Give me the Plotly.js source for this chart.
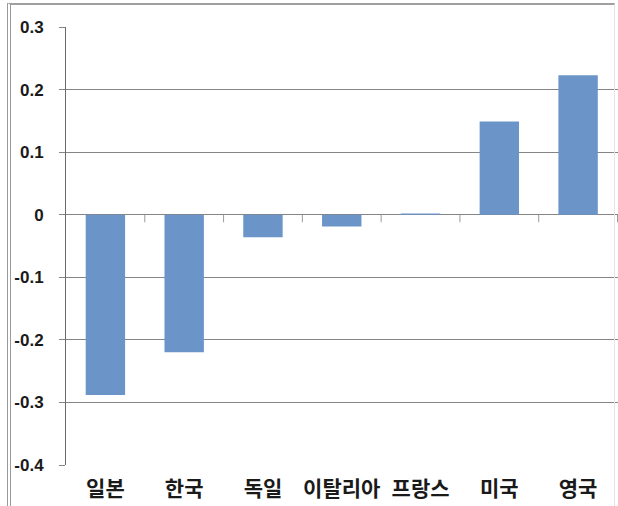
<!DOCTYPE html>
<html>
<head>
<meta charset="utf-8">
<script src="https://cdn.plot.ly/plotly-3.0.1.min.js"></script>
<style>
  html, body { margin: 0; padding: 0; background: #fff; }
  #wrap { position: relative; width: 618px; height: 506px; overflow: hidden; }
  #chart { position: absolute; left: 0; top: 0; width: 618px; height: 506px; }
  /* outer chart frame */
  #frame {
    position: absolute; left: 7px; top: 3px; width: 603px; height: 520px;
    border-top: 2px solid #a0a0a0;
    border-left: 4px double #9a9a9a;
    border-right: 1px solid #e4e4e4;
    pointer-events: none;
  }
</style>
</head>
<body>
<div id="wrap">
  <div id="chart"></div>
  <div id="frame"></div>
</div>
<script>
// Countries and their values
const countries = ['일본', '한국', '독일', '이탈리아', '프랑스', '미국', '영국'];
const values = [-0.288, -0.220, -0.036, -0.019, 0.002, 0.149, 0.223];
const yTicks = [0.3, 0.2, 0.1, 0, -0.1, -0.2, -0.3, -0.4];
const yTickText = ['0.3', '0.2', '0.1', '0', '-0.1', '-0.2', '-0.3', '-0.4'];

// small tick marks along the zero axis between categories
const tickShapes = [];
for (let i = 0; i < countries.length; i++) {
  tickShapes.push({
    type: 'line', xref: 'x', yref: 'y',
    x0: i + 0.5, x1: i + 0.5, y0: 0, y1: -0.012,
    line: { color: '#9a9a9a', width: 1 },
    layer: 'above'
  });
}

const trace = {
  type: 'bar',
  x: countries,
  y: values,
  marker: { color: '#6b94c9', line: { width: 0 } },
  hoverinfo: 'x+y'
};

const layout = {
  width: 618,
  height: 506,
  margin: { l: 66, r: 0, t: 27, b: 41 },
  paper_bgcolor: '#ffffff',
  plot_bgcolor: '#ffffff',
  showlegend: false,
  bargap: 0.5,
  xaxis: {
    type: 'category',
    tickangle: 0,
    showgrid: false,
    showline: false,
    ticks: '',
    ticklabelstandoff: 9,
    tickfont: { family: '"Noto Sans CJK KR", sans-serif', size: 21, color: '#1a1a1a', weight: 'bold' }
  },
  yaxis: {
    range: [-0.4, 0.3],
    tickmode: 'array',
    tickvals: yTicks,
    ticktext: yTickText,
    showgrid: true,
    gridcolor: '#858585',
    gridwidth: 1,
    zeroline: true,
    zerolinecolor: '#858585',
    zerolinewidth: 1,
    showline: true,
    linecolor: '#6a6a6a',
    linewidth: 1,
    ticks: 'outside',
    ticklen: 6,
    tickcolor: '#858585',
    ticklabelstandoff: 12,
    tickfont: { family: '"Liberation Sans", Arial, sans-serif', size: 17, color: '#1a1a1a', weight: 'bold' }
  },
  shapes: tickShapes
};

Plotly.newPlot('chart', [trace], layout, { displayModeBar: false, staticPlot: true });
</script>
</body>
</html>
